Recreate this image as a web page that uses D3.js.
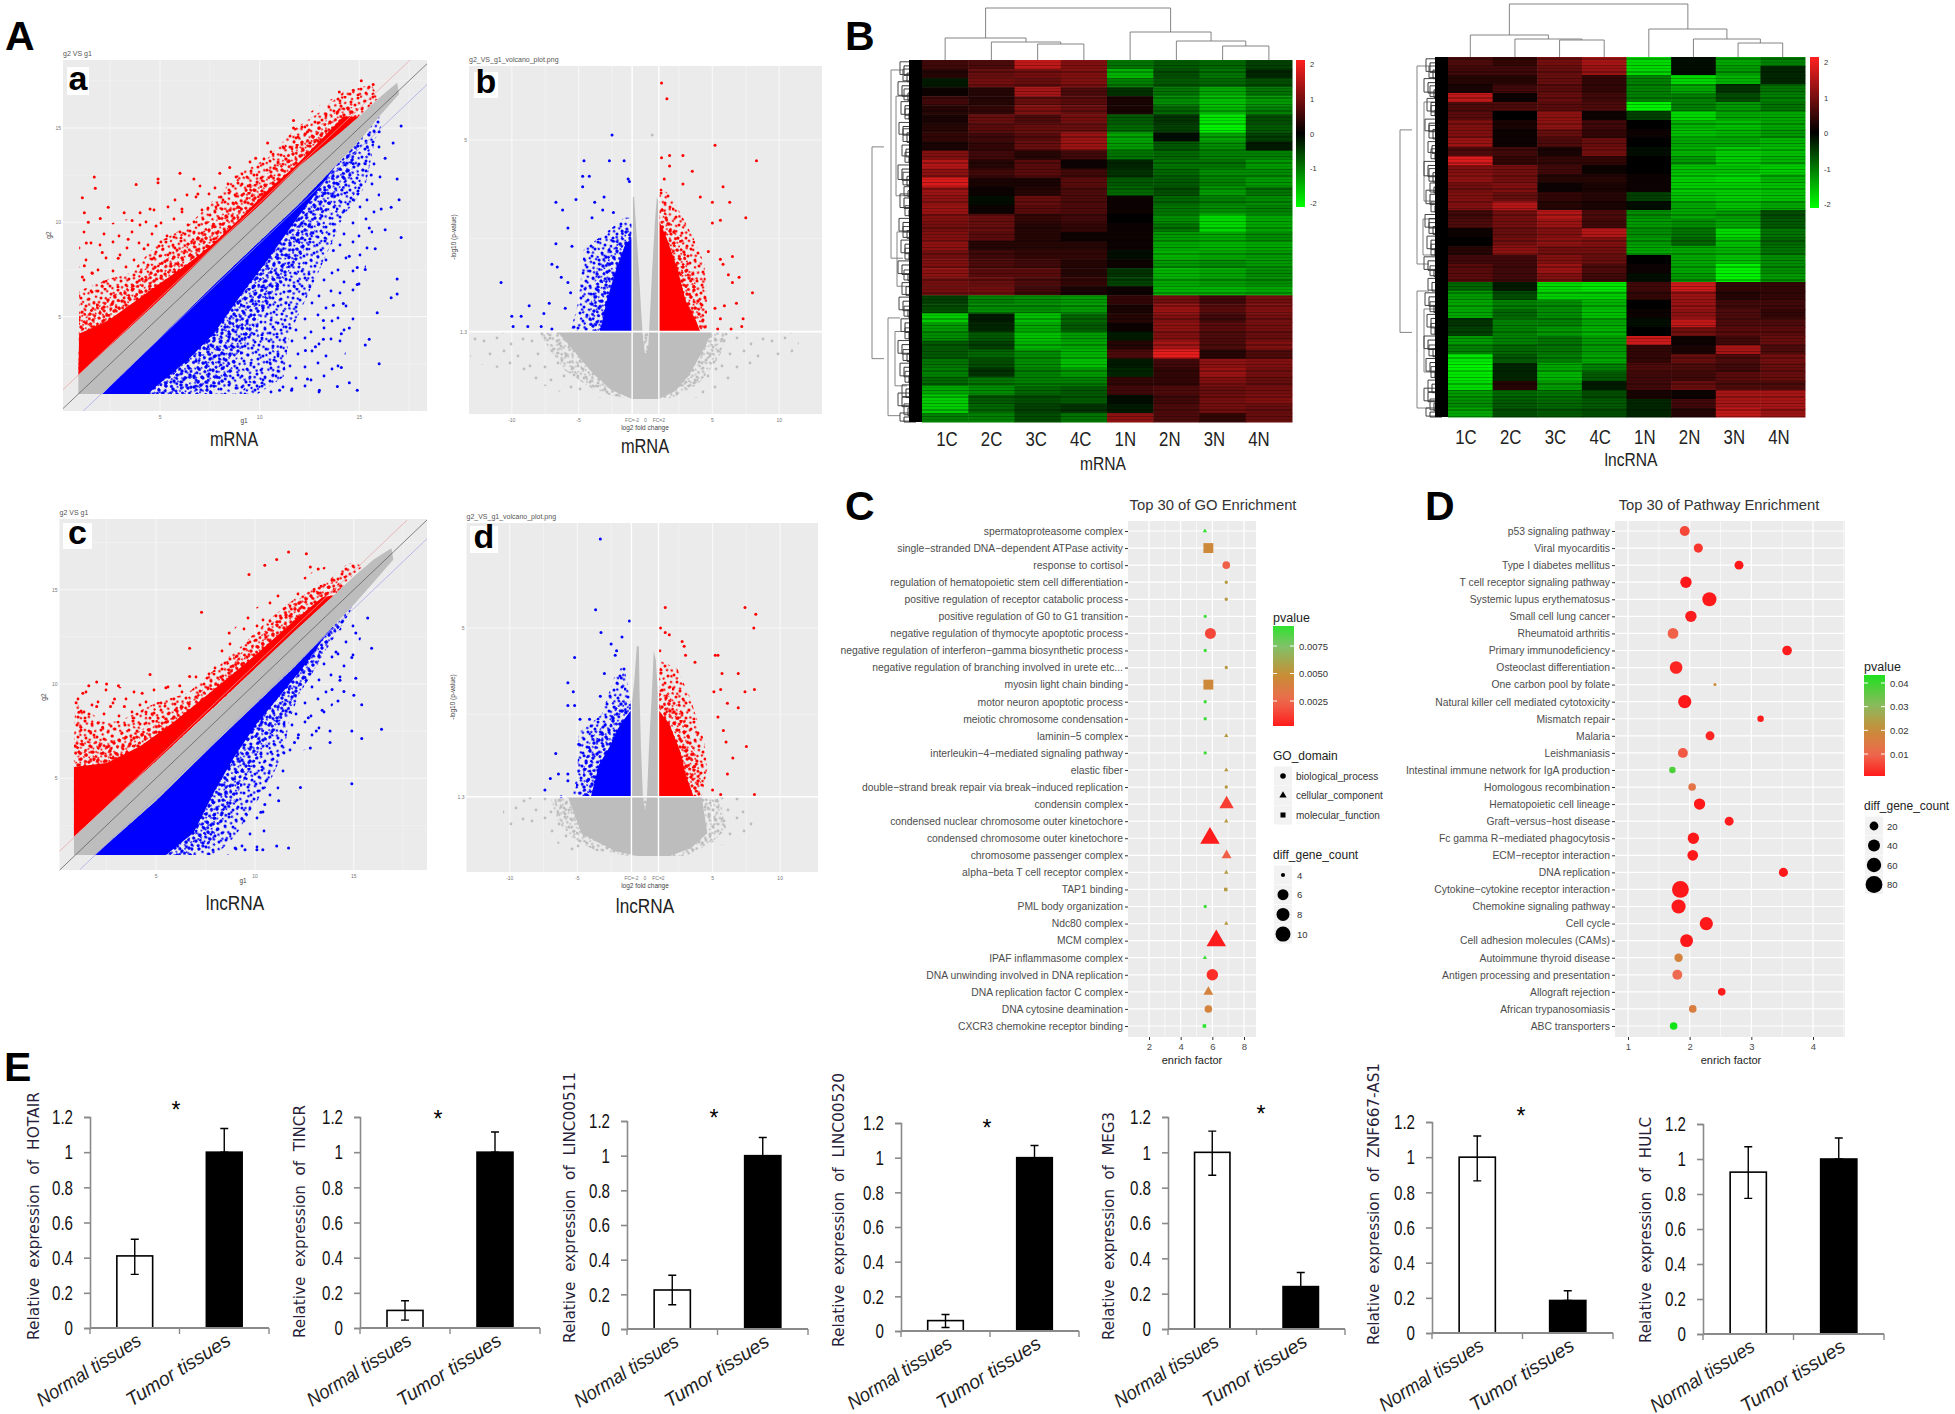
<!DOCTYPE html>
<html>
<head>
<meta charset="utf-8">
<title>Differential expression figure</title>
<script src="https://cdn.jsdelivr.net/npm/d3@7/dist/d3.min.js"></script>
<style>
body { margin: 0; background: #fff; }
svg { display: block; }
text { font-family: "Liberation Sans", Arial, sans-serif; }
</style>
</head>
<body>
<div id="chart"></div>
<script>
// ---------- panel A: scatter clouds (g1, g2) ----------
const aGrey = [[0.9,1.9],[5,5.9],[8,9],[10,10.9],[12,13],[14,14.7],[15,15.6],[16,16.6],[16.9,17.4],[17,16.8],[16,15.6],[15,14.3],[14,13.2],[12,11],[10,9],[8,7],[5,3.9],[2.1,0.9],[0.9,0.9]];
const aRedSolid = [[0.9,1.9],[0.94,4.1],[2.4,4.8],[5.05,6.8],[6.4,7.8],[7.7,8.9],[9.1,10.3],[10.4,11.7],[11.8,13],[13.1,14.4],[14.2,15.6],[15,15.6],[10,10.9],[5,5.9]];
const aRedMid = [[0.9,1.9],[0.94,5.2],[2.4,6],[3.5,6.6],[5,7.8],[6.4,8.9],[7.7,10],[9,11.4],[10.4,12.6],[11.8,14],[13.1,15.2],[14.2,16.2],[15,16],[10,10.9],[5,5.9]];
const aRedSpeckle = [[0.94,3.9],[0.94,6.4],[1.3,6.5],[2.4,7],[3.5,7.3],[5,9],[6.4,9.8],[7.7,11.2],[9,12.6],[10.4,13.4],[11.8,15],[13.1,15.9],[14.2,16.9],[15.6,17.3],[16,16.6],[10,10.9],[5,5.9]];
const aRedOuter = [[0.94,6],[0.94,9.5],[2,9.8],[3.5,10.2],[5,11.2],[7,12],[9,13],[10.4,14],[12,15.4],[13,16.2],[14.5,17],[14.2,16.2],[10.4,12.6],[5,7.8]];
const aRedPoints = [[1.7,12.4],[1.1,11.3],[1.75,11.8],[3.8,12],[4.9,12.3],[4.9,12.1],[6,12.6],[6.7,12.3],[8,12.6],[8.5,12.9],[3.2,10.5],[2,10.2],[1.2,10.5],[1.4,10],[3.6,10.1],[4,10.5],[2.4,10.8],[4.5,10.7],[9.8,13.4],[10.4,14.2],[11.7,15.4],[11.7,15],[12.4,14.8],[14,16.9],[15.1,17.5],[15.7,17.3],[14.7,17],[6.9,11.5],[6.1,10.7],[4.8,9.8],[1.3,8.9],[1.2,7.7],[2.1,8.4],[3.4,9.1],[1.1,7.1],[1.6,7.3],[2.9,8.1],[4.2,8.6]];
const aBlueSolid = [[2.1,0.9],[4.4,0.9],[4.8,1.3],[6.4,2.7],[7.7,4.1],[9.1,6.2],[10.4,8],[11.8,10.1],[12.8,11.5],[13.9,13.1],[14,13.2],[12,11],[10,9],[8,7],[5,3.9]];
const aBlueMid = [[2.1,0.9],[7.5,0.9],[8.5,1.8],[9,3],[10,5],[11.2,7],[12.4,8.8],[13.3,10.6],[14.5,12.2],[15,14.3],[14,13.2],[10,9],[5,3.9]];
const aBlueSpeckle = [[2.1,0.9],[9.9,0.9],[11.2,1.8],[11.5,4.1],[13.1,7.7],[14.2,10.3],[15.3,11.9],[15.8,14.4],[16.1,15.1],[16,15.6],[14,13.2],[10,9],[5,3.9]];
const aBlueOuter = [[9,0.9],[13,0.9],[14,2],[14.6,4],[15.2,7],[15.8,10],[16.3,13],[16,14.6],[14.2,10.3],[11.5,4.1]];
const aBluePoints = [[17.1,15.1],[16,14.8],[15.4,14],[16.7,14.2],[16.3,13.4],[16.9,12.3],[15.6,12.5],[14.7,13.1],[15.3,13.1],[17,11.2],[16.6,10.8],[16.1,10.7],[14.7,11.2],[15.5,9.7],[16.3,9.6],[17.1,9.2],[15.8,8.6],[14.5,8.2],[13.7,8.5],[14.9,7.6],[15.3,7.5],[16.9,7],[14.9,6.7],[16.9,6.2],[16.6,6],[13.7,5.6],[14.2,5.7],[15.9,5.2],[13.2,4.8],[14.5,4.4],[14.1,4.1],[15.5,3.8],[15.3,3.5],[12.8,3.4],[12.3,3.2],[13.2,3.8],[16,2.5],[14.1,2.3],[12.4,1.7],[14.5,1.5],[13.9,1.3],[14.9,1.1],[13,1.1],[11.6,1.1],[11,1.1]];

const cGrey = [[0.85,1.9],[5,5.9],[8,8.8],[10,10.8],[12,12.8],[14,14.7],[15,15.7],[16,16.6],[16.9,17.2],[17,16.6],[16,15.4],[15,14.2],[14,13.1],[12,10.9],[10,8.9],[8,6.9],[5,3.8],[1.9,0.93],[0.85,0.93]];
const cRedSolid = [[0.85,1.9],[0.85,5.6],[2.5,5.8],[4.2,6.7],[5.8,7.9],[7.1,9],[8.5,10.2],[10.1,11.6],[11.7,13.1],[13.4,14.6],[14,14.7],[10,10.8],[5,5.9]];
const cRedMid = [[0.85,1.9],[0.85,7],[2.5,6.9],[4,7.4],[5.5,8.4],[7,9.4],[8.4,10.6],[9.8,12],[11.2,13.6],[12.8,15],[14,15.6],[14.5,15.2],[10,10.8],[5,5.9]];
const cRedSpeckle = [[0.85,5],[0.9,9],[2.5,7.9],[3.3,8.1],[5,9],[6.6,9.5],[8,10.8],[9.3,12],[10.7,13.4],[12,14.5],[13.4,15.2],[14.7,16.4],[15.5,16.3],[10,10.8],[5,5.9]];
const cRedOuter = [[0.9,8],[0.9,9.6],[2,9.9],[4,9.8],[6,10],[7.5,11],[8.5,12.5],[10,14],[11.5,15],[13,16],[14.5,16.6],[12.8,15],[9.8,12],[5.5,8.4]];
const cRedPoints = [[11.7,17],[11.1,16.6],[10.5,16.3],[9.7,15.8],[12.6,16.9],[12.8,16.2],[13.2,16.1],[7.3,13.8],[8.7,12.7],[6.7,11.9],[4.7,10.5],[2,10.1],[2.5,10],[3.1,9.9],[1.6,9.9],[0.96,9],[1.3,9.5],[6.7,10.4],[4.3,9.5],[5.5,9.8],[6.2,9.9],[2.9,9.2],[2.7,8.8],[1.1,8.5],[2.3,7.7],[1.2,7.7],[2,8.8],[3.4,8.8],[1.7,7.4]];
const cBlueSolid = [[1.9,0.93],[5.5,0.93],[6.9,2.1],[8,4.4],[9,6.2],[10.1,7.9],[11.2,9.3],[12.6,11.1],[13.4,12.3],[14,13.1],[12,10.9],[10,8.9],[8,6.9],[5,3.8]];
const cBlueMid = [[1.9,0.93],[6.8,0.93],[7.8,1.6],[8.8,3.5],[9.6,5.2],[10.6,6.9],[11.6,8.4],[12.8,10.4],[13.8,12.2],[14.7,13.8],[14,13.1],[10,8.9],[5,3.8]];
const cBlueSpeckle = [[1.9,0.93],[8,0.93],[9,1.9],[9.9,3.5],[10.7,4.7],[11.5,6.5],[11.7,7.9],[12.3,9.7],[13.1,10.9],[13.9,12.3],[14.7,13.6],[15,14.2],[10,8.9],[5,3.8]];
const cBlueOuter = [[8,0.93],[10,0.93],[10.5,2],[11,4],[12,6],[13,7],[14,9],[15,11],[15.5,13],[14.7,13.6],[12.3,9.7],[10.7,4.7]];
const cBluePoints = [[15.7,13.5],[15.1,12.7],[15.9,11.9],[14.1,11.7],[14.9,11.4],[15.1,10.3],[14.3,10.2],[13.9,9.7],[14.5,9.6],[15,9.4],[14.2,9.1],[15.4,8.9],[13.4,8.6],[12.7,8.2],[16.4,7.6],[14.9,7.5],[15.4,7.1],[13.8,7.5],[13.1,7.5],[12.2,7.3],[12,6.9],[12.8,6.6],[13.8,6.9],[14.9,4.7],[12.3,4.5],[10.5,3.6],[11.2,3.8],[10.3,3.2],[11.7,1.3],[11.1,1.4],[10.4,1.2],[10.1,1.2],[9.5,1.2],[9,1.3]];

const bGreyDome = [[-6.6,1.3],[-5.2,0.89],[-4.2,0.57],[-2.6,0.18],[-1,0],[1,0],[2.2,0.15],[3.2,0.44],[4.2,0.89],[5,1.3],[1,1.3],[1,3.8],[0.85,3.9],[0.7,3.4],[0.5,2.5],[0.35,1.7],[0.2,1],[0.05,0.89],[-0.05,0.89],[-0.2,1.2],[-0.35,1.8],[-0.5,2.5],[-0.7,3.3],[-0.85,3.9],[-1,3.9],[-1,1.3]];
const bGreyMid = [[-8,1.3],[-7,0.9],[-6,0.55],[-4,0.2],[-2,0.02],[2,0.02],[4,0.3],[5.5,0.8],[6.2,1.3]];
const bGreySpeckle = [[-13,1.28],[-13.1,0.7],[-10,0.55],[-8,0.3],[-6,0.1],[-4,0.02],[4,0.02],[6,0.25],[8,0.5],[11,0.9],[12,1.28]];
const bBlueSolid = [[-1,1.3],[-3.4,1.3],[-2.9,1.9],[-2.2,2.5],[-1.5,3],[-1,3.1]];
const bBlueMid = [[-4.4,1.3],[-4,2],[-3.6,2.6],[-2.5,3],[-1.5,3.3],[-1,3.3],[-1,1.3]];
const bBlueSpeckle = [[-5.6,1.3],[-5,1.9],[-4.6,2.9],[-3,3.2],[-1.6,3.5],[-1,3.5],[-1,1.3]];
const bBluePoints = [[-2.5,5.1],[-4.6,4.6],[-2.7,4.6],[-1.6,4.6],[-4.7,4.3],[-4.2,4.3],[-1.3,4.25],[-1.2,4.2],[-4.7,4.1],[-3.1,3.9],[-5.2,3.85],[-6.7,3.8],[-3.8,3.8],[-3.2,3.65],[-6.2,3.65],[-2.4,3.6],[-4,3.5],[-5.8,3.3],[-6.7,3],[-5.5,2.95],[-7,2.6],[-6.6,2.55],[-6.3,2.35],[-10.8,2.25],[-5.8,2.25],[-5.6,2.05],[-8.7,1.8],[-7.2,1.85],[-10,1.6],[-9.3,1.6],[-7.6,1.65],[-9.9,1.4],[-8.8,1.4],[-7.8,1.4],[-7,1.35],[-6,1.75]];
const bRedSolid = [[1,1.3],[1,3.45],[1.6,3.1],[2.4,2.5],[3,1.9],[3.8,1.5],[4.1,1.3]];
const bRedMid = [[1,1.3],[1,3.8],[2,3.4],[3,2.8],[3.8,2.2],[4.3,1.7],[4.4,1.3]];
const bRedSpeckle = [[1,3.4],[1,4.1],[1.8,3.95],[2.8,3.5],[3.6,3.1],[4.4,2.6],[4.6,2],[4.6,1.3],[3.8,1.3]];
const bRedPoints = [[1.2,6.1],[1.6,5.8],[5.2,4.9],[8.3,4.6],[1.2,4.66],[1.8,4.7],[2.8,4.7],[1.8,4.5],[3.5,4.4],[1.4,4.25],[2.8,4.15],[5.8,4.1],[4.1,3.9],[5,3.8],[6.3,3.8],[7.5,3.5],[5.6,3.45],[5,3.4],[4.7,2.85],[5.6,2.7],[6.5,2.75],[5.8,2.6],[6.2,2.4],[7,2.35],[6.5,2.25],[8,2.05],[6.8,1.85],[5.9,1.8],[5.2,1.75],[5.6,1.55],[7.3,1.55],[7.2,1.4],[6.4,1.35],[5.4,1.35]];
const bGreyPoints = [[0.5,5.1]];

const dGreyDome = [[-5.7,1.3],[-4.7,0.5],[-3.5,0.3],[-2.1,0.1],[-0.5,0],[1.8,0],[3.4,0.17],[4.6,0.5],[4.2,1.3],[1,1.3],[1,3.4],[0.8,4.3],[0.65,4.5],[0.5,3.5],[0.3,2.4],[0.15,1.3],[0,1],[-0.15,1.3],[-0.3,2.4],[-0.4,3.6],[-0.45,4.6],[-0.6,4.6],[-0.8,3.8],[-1,3.3],[-1,1.3]];
const dGreyMid = [[-7,1.3],[-6.5,0.8],[-5.5,0.4],[-3.5,0.1],[-1,0],[3,0],[5,0.3],[6,0.6],[5.5,1.3]];
const dGreySpeckle = [[-10.5,1.3],[-10.5,0.6],[-7,0.5],[-6,0.1],[-3,0.05],[3,0.05],[6.5,0.3],[8.3,0.55],[7.5,1.3]];
const dBlueSolid = [[-1,1.3],[-4,1.3],[-3.4,2],[-2.6,2.4],[-1.8,2.9],[-1,3.2]];
const dBlueMid = [[-4.8,1.3],[-4.5,2],[-4,2.6],[-3,2.9],[-2,3.4],[-1,3.4],[-1,1.3]];
const dBlueSpeckle = [[-5.4,1.3],[-5,1.8],[-4.9,2.7],[-3.2,3.1],[-2.3,3.9],[-1.6,4.2],[-1,3.4],[-1,1.3]];
const dBluePoints = [[-3.3,6.95],[-3.65,5.4],[-1.15,5.15],[-3.25,4.9],[-1.7,4.8],[-2.5,4.65],[-2.1,4.5],[-2.2,4.4],[-5.2,4.35],[-1.55,4.1],[-3,4],[-1.75,3.9],[-5.7,3.8],[-5.3,3.6],[-3.3,3.5],[-5.7,3.3],[-5.2,3.3],[-4.8,3],[-4.1,3],[-6.6,2.25],[-7,1.7],[-6.4,1.8],[-5.7,1.8],[-5.7,1.65],[-7.4,1.45],[-6.2,1.3],[-4.9,2.45],[-4.5,2.2]];
const dRedSolid = [[1,1.3],[1,3.2],[1.8,2.9],[2.6,2.3],[3,1.8],[3.6,1.3]];
const dRedMid = [[1,1.3],[1,3.7],[2.2,3.4],[3,2.9],[3.8,2.2],[4.2,1.7],[4,1.3]];
const dRedSpeckle = [[1,3.2],[1,4.3],[2.4,4.1],[3.3,3.5],[4.4,2.5],[4.6,1.9],[4.2,1.3],[3.6,1.3]];
const dRedPoints = [[1.5,5.45],[7.4,5.45],[8.2,5.3],[8.05,5],[1.15,5],[1.5,4.9],[1.8,4.85],[2.75,4.7],[2.9,4.6],[1.1,4.5],[3,4.4],[5.2,4.4],[5.4,4.4],[3.7,4.25],[6.9,4],[5.7,4],[8.1,3.65],[7.4,3.6],[5.6,3.65],[5.1,3.6],[6.1,3.35],[6.9,3.25],[5.4,3.05],[5.8,2.75],[6,2.5],[7.5,2.4],[6.5,2.15],[6.1,1.8],[5,1.45],[5.6,1.35],[8.1,1.35]];

// stipple tiles for the thinner parts of the clouds (just a texture)
const speckleDots = [[2,3],[9,1],[15,6],[22,2],[29,5],[37,1],[44,4],[5,10],[12,12],[19,9],[26,13],[33,10],[41,11],[1,17],[8,19],[16,16],[23,20],[30,17],[38,18],[46,15],[4,25],[11,27],[18,23],[27,26],[34,24],[42,26],[7,33],[14,31],[21,34],[31,32],[38,35],[45,32],[2,40],[10,41],[17,38],[25,41],[33,39],[41,42],[6,46],[14,46],[22,47],[30,45],[37,46],[46,39]];
const speckleSparse = [[4,5],[17,2],[31,8],[43,3],[10,18],[24,15],[38,20],[2,30],[17,31],[30,27],[44,33],[8,42],[23,44],[36,40]];

// ---------- panel B: heatmap rows (1C..4C, 1N..4N), z scores ----------
const heatColumns = ["1C","2C","3C","4C","1N","2N","3N","4N"];
const heatTicks = [2,1,0,-1,-2];
const mrnaRows = [
[.5,.6,1.5,1.0,-.9,-.7,-.8,-.5],[.3,.8,.9,1.0,-1.4,-.6,-.9,-.3],[-.2,.9,.8,1.0,-1.0,-.7,-.8,-.6],[.1,.3,1.3,.6,-.4,-.9,-1.3,-.9],
[.5,.3,.8,.7,.2,-1.1,-1.5,-1.2],[.3,.4,1.0,.8,.2,-.8,-1.4,-1.0],[.2,.8,.6,.9,-.7,-.4,-1.8,-.6],[.3,.7,.8,.8,-.8,-.5,-1.9,-.7],
[.4,.5,.7,1.2,-1.3,-.1,-1.3,-.5],[.2,.4,.8,1.2,-1.2,-.7,-1.1,-.2],[1.0,.5,.3,.5,-.9,-.8,-1.0,-1.0],[1.4,.3,.7,.1,-.3,-.9,-.9,-1.2],
[1.1,.5,.7,.5,-.4,-.8,-1.1,-1.1],[1.7,.2,.2,.7,-.7,-.7,-1.0,-1.2],[1.2,.1,.3,.6,-.8,-.6,-1.2,-.9],[1.1,-.1,.8,.6,.1,-.8,-1.0,-1.1],
[1.2,.1,.7,.6,.1,-.9,-1.1,-1.0],[1.0,.8,.4,.5,0,-1.1,-1.7,-1.3],[.9,.8,.3,.4,.1,-.9,-1.7,-1.3],[1.0,.7,.3,.1,.1,-1.2,-1.3,-1.1],
[1.1,.3,.3,.3,.1,-1.3,-1.4,-1.3],[.9,.5,.4,.4,-.1,-1.4,-1.3,-1.2],[1.0,.6,.5,.3,.1,-1.2,-1.1,-1.2],[1.1,.7,.7,.3,-.4,-1.4,-1.3,-1.1],
[.9,.8,.6,.4,-.5,-1.3,-1.2,-1.1],[.9,.9,.5,.2,.1,-1.4,-1.4,-1.3],[-.5,-1.0,-1.1,-1.2,.4,.9,.5,.9],[-.6,-1.1,-1.1,-1.2,.2,1.2,.7,1.0],
[-1.6,-.2,-1.5,-.8,.3,1.0,.5,.9],[-1.2,-.3,-1.3,-.7,.1,1.1,.7,.9],[-1.1,-.7,-1.5,-1.2,-.2,1.0,.6,.8],[-.7,-.5,-1.4,-1.3,.3,1.3,.6,1.0],
[-.7,-.8,-1.1,-1.4,.6,1.8,.3,.6],[-.9,-.6,-1.1,-1.5,-.2,.5,1.1,1.0],[-1.0,-.4,-1.0,-1.2,-.3,.4,1.2,.9],[-.8,-.9,-1.0,-1.0,.4,.4,1.0,.8],
[-1.3,-1.1,-.8,-.7,.5,.6,.8,.9],[-1.6,-.7,-.6,-.7,-.1,.5,.9,1.0],[-1.6,-.8,-.5,-.4,-.2,.6,.9,.8],[-1.0,-1.0,-.6,-.9,1.1,.6,.4,.8]];
const lncRows = [
[.6,.4,.9,1.3,-1.7,-.1,-1.3,-1.0],[.5,.5,.8,1.2,-1.7,-.1,-1.2,-.3],[.3,.3,.8,.4,-1.0,-1.7,-1.4,-.3],[.2,.5,.7,.4,-1.0,-1.3,-.4,-.9],
[1.5,.1,.8,.5,-1.0,-1.0,-.6,-1.0],[.6,.6,.7,.6,-1.9,-1.0,-1.2,-.9],[.7,0,1.1,.1,-.5,-1.7,-1.3,-1.3],[1.0,.2,1.1,.5,0,-1.4,-1.5,-1.3],
[1.0,.1,.8,.4,.1,-1.5,-1.4,-1.2],[1.2,.1,.6,.8,0,-1.3,-1.3,-1.4],[.6,.5,.2,.9,-.1,-1.4,-1.6,-1.5],[1.7,.4,.4,.4,0,-1.2,-1.6,-1.4],
[1.0,.9,.5,.1,0,-1.5,-1.5,-1.6],[1.1,.9,.3,.3,.1,-1.6,-1.7,-1.4],[.9,1.0,.1,.2,.1,-1.6,-1.6,-1.5],[1.0,.8,.4,.3,-.5,-1.5,-1.6,-1.5],
[1.0,1.4,.3,.2,-.1,-1.3,-1.5,-1.3],[.5,.9,1.4,.6,-1.1,-1.3,-1.2,-.6],[.6,.9,1.2,.5,-1.2,-1.1,-1.3,-.7],[.1,.8,1.0,1.4,-1.1,-.9,-1.7,-.9],
[0,.9,1.1,1.0,-1.2,-.8,-1.5,-.8],[.3,1.1,.9,.9,-1.3,-1.3,-1.4,-.9],[.5,.5,1.0,.8,0,-1.3,-1.5,-1.1],[.7,.5,1.2,.6,.1,-1.3,-1.9,-1.1],
[.7,.5,1.0,.5,-.1,-1.2,-1.9,-1.2],[-.8,-.2,-1.7,-1.8,.5,1.6,.4,.4],[-1.2,-.6,-1.6,-1.6,.4,1.2,.3,.4],[-1.3,-1.0,-1.1,-1.4,0,1.2,.5,.5],
[-1.3,-.8,-1.1,-1.5,.1,1.1,.6,.4],[-.4,-1.0,-1.0,-1.3,-.1,1.5,.6,.6],[-.5,-1.0,-1.2,-1.4,0,.9,.7,.7],[-1.2,-1.0,-.9,-1.2,1.6,.1,.5,.8],
[-1.0,-.8,-.9,-1.2,.4,.2,1.3,.6],[-1.8,-.7,-1.0,-1.3,.4,.8,.6,.9],[-1.9,-.3,-1.3,-1.0,.6,.6,.5,.8],[-1.8,-.3,-1.4,-.7,.5,.5,.7,.8],
[-1.7,.3,-1.2,-.2,.5,.8,.6,.6],[-1.2,-.8,-.9,-.6,.2,.1,1.3,1.3],[-1.1,-.7,-.8,-.7,-.3,.5,1.3,1.3],[-1.3,-.6,-.7,-.6,-.3,.3,1.5,1.2]];

// column dendrograms: [left node, right node, height]; nodes 0-7 are leaves, 8+ earlier merges
const mrnaMerges = [[2,3,16],[1,8,18],[0,9,22],[6,7,14],[5,11,19],[4,12,28],[10,13,52]];
const lncMerges = [[2,3,17],[1,8,18],[0,9,22],[6,7,14],[5,11,18],[4,12,28],[10,13,53]];
// row dendrogram brackets: [distance left of the heatmap, first row, last row]
const mrnaBigBrackets = [[50,9.6,33],[31,1.1,21.9],[34,28.5,39.3],[26,4,15],[25,19,25],[27,30,36]];
const lncBigBrackets = [[48,8.1,30.6],[31,1,23],[31,26,39],[24,5,16],[24,28,35],[25,18,22]];
const rowCurls = [[22,0.2,1.6],[19,1,2.3],[24,2.4,3.9],[18,3.2,4.4],[21,4.6,6],[17,5.4,6.5],[23,6.9,8.2],[19,7.6,9],[20,9.4,10.6],[17,10.2,11.3],[24,11.6,13.2],[19,12.4,13.8],[18,14,15],[22,14.8,16.3],[17,16.1,17.2],[23,17.5,18.9],[19,18.4,19.6],[21,19.9,21.3],[17,20.8,22],[24,22.2,23.6],[18,23.2,24.3],[20,24.6,25.9],[23,26.2,27.6],[18,27.2,28.3],[21,28.6,30],[17,29.6,30.8],[24,31,32.4],[19,32,33.2],[22,33.5,34.9],[17,34.4,35.6],[20,35.9,37.2],[24,36.8,38.2],[18,38,39.2],[22,39,39.9]];

// ---------- panel C: GO enrichment ----------
const goTerms = ["spermatoproteasome complex","single\u2212stranded DNA\u2212dependent ATPase activity","response to cortisol","regulation of hematopoietic stem cell differentiation","positive regulation of receptor catabolic process","positive regulation of G0 to G1 transition","negative regulation of thymocyte apoptotic process","negative regulation of interferon\u2212gamma biosynthetic process","negative regulation of branching involved in urete etc...","myosin light chain binding","motor neuron apoptotic process","meiotic chromosome condensation","laminin\u22125 complex","interleukin\u22124\u2212mediated signaling pathway","elastic fiber","double\u2212strand break repair via break\u2212induced replication","condensin complex","condensed nuclear chromosome outer kinetochore","condensed chromosome outer kinetochore","chromosome passenger complex","alpha\u2212beta T cell receptor complex","TAP1 binding","PML body organization","Ndc80 complex","MCM complex","IPAF inflammasome complex","DNA unwinding involved in DNA replication","DNA replication factor C complex","DNA cytosine deamination","CXCR3 chemokine receptor binding"];
const goEnrich = [5.53,5.75,6.88,6.88,6.88,5.55,5.88,5.55,6.88,5.75,5.55,5.55,6.88,5.55,6.88,6.88,6.9,6.88,5.85,6.9,6.88,6.85,5.55,6.88,6.25,5.53,6,5.75,5.75,5.5];
const goP = [.0092,.0045,.0022,.0055,.0055,.009,.0015,.009,.0055,.0045,.009,.009,.0055,.009,.0055,.0055,.0012,.0055,.0003,.0022,.0055,.0055,.009,.0055,.0003,.009,.0008,.0042,.0042,.0095];
const goCount = [3,6,5,3,3,3,6,3,3,6,3,3,3,3,3,3,6,3,10,5,3,3.6,3,3,10,3,6.5,5,5,3.6];
const goDomain = ["t","s","c","c","c","c","c","c","c","s","c","c","t","c","t","c","t","t","t","t","t","s","c","t","t","t","c","t","c","s"];
const goDomainNames = ["biological_process","cellular_component","molecular_function"];
const goPTicks = [.0075,.005,.0025];
const goCountTicks = [4,6,8,10];
const goXTicks = [2,4,6,8];

// ---------- panel D: pathway enrichment ----------
const pathTerms = ["p53 signaling pathway","Viral myocarditis","Type I diabetes mellitus","T cell receptor signaling pathway","Systemic lupus erythematosus","Small cell lung cancer","Rheumatoid arthritis","Primary immunodeficiency","Osteoclast differentiation","One carbon pool by folate","Natural killer cell mediated cytotoxicity","Mismatch repair","Malaria","Leishmaniasis","Intestinal immune network for IgA production","Homologous recombination","Hematopoietic cell lineage","Graft\u2212versus\u2212host disease","Fc gamma R\u2212mediated phagocytosis","ECM\u2212receptor interaction","DNA replication","Cytokine\u2212cytokine receptor interaction","Chemokine signaling pathway","Cell cycle","Cell adhesion molecules (CAMs)","Autoimmune thyroid disease","Antigen processing and presentation","Allograft rejection","African trypanosomiasis","ABC transporters"];
const pathEnrich = [1.92,2.14,2.8,1.94,2.32,2.02,1.73,3.58,1.78,2.41,1.92,3.15,2.33,1.89,1.72,2.04,2.16,2.64,2.06,2.05,3.52,1.85,1.82,2.27,1.95,1.82,1.8,2.52,2.05,1.74];
const pathP = [.006,.004,.0005,.0005,.0005,.001,.009,.001,.002,.019,.0005,.001,.002,.008,.038,.013,.0005,.001,.0005,.0005,.0005,.0005,.0005,.0005,.0005,.017,.01,.001,.016,.045];
const pathCount = [27,22,21,36,58,36,32,25,45,5,50,14,21,27,14,17,36,21,36,32,22,80,58,50,47,19,27,17,17,17];
const pathPTicks = [.04,.03,.02,.01];
const pathCountTicks = [20,40,60,80];
const pathXTicks = [1,2,3,4];

// ---------- panel E: bars ----------
const barGenes = ["HOTAIR","TINCR","LINC00511","LINC00520","MEG3","ZNF667-AS1","HULC"];
const barCategories = ["Normal tissues","Tumor tissues"];
const barNormal = [.41,.10,.225,.06,1,1,.925];
const barTumor = [1,1,1,1,.24,.185,1];
const normalErrUp = [.095,.055,.085,.035,.12,.12,.145];
const normalErrDown = [.105,.055,.085,.04,.13,.135,.15];
const tumorErrUp = [.135,.115,.105,.07,.08,.055,.12];
const starValue = [1.25,1.2,1.23,1.18,1.23,1.245,null];
const barTicks = [0,.2,.4,.6,.8,1,1.2];

const svg = d3.select("#chart").append("svg").attr("width", 1955).attr("height", 1414);
const defs = svg.append("defs");
defs.append("filter").attr("id", "soft").attr("x", "-2%").attr("y", "-2%").attr("width", "104%").attr("height", "104%")
	.append("feGaussianBlur").attr("stdDeviation", 0.5);

function addSpeckle(id, color, dots, r, transform)
{
	const p = defs.append("pattern").attr("id", id).attr("patternUnits", "userSpaceOnUse").attr("width", 48).attr("height", 48);
	if (transform) p.attr("patternTransform", transform);
	p.selectAll("circle").data(dots).enter().append("circle")
		.attr("cx", d => d[0]).attr("cy", d => d[1]).attr("r", r).attr("fill", color);
}
const layerTransforms = [null, "rotate(37) scale(0.8)", "rotate(-65) scale(0.65)"];
[["Red","#ff0000"],["Blue","#0000ff"],["Grey","#bdbdbd"]].forEach(c =>
{
	layerTransforms.forEach((t, i) => addSpeckle(`sp${c[0]}${i}`, c[1], speckleDots, 1.5, t));
	addSpeckle(`sp${c[0]}Sparse`, c[1], speckleSparse, 1.4, null);
});

// horizontal streaks over the heatmap cells (texture only)
const stripe = defs.append("pattern").attr("id", "heatStripe").attr("patternUnits", "userSpaceOnUse").attr("width", 10).attr("height", 13);
[[0,1,.28],[3,1,.16],[6,2,.24],[10,1,.12]].forEach(s =>
	stripe.append("rect").attr("x", 0).attr("width", 10).attr("y", s[0]).attr("height", s[1]).attr("fill", "#000").attr("opacity", s[2]));

function squeeze(node, f)
{
	node.setAttribute("textLength", node.getComputedTextLength() * f);
	node.setAttribute("lengthAdjust", "spacingAndGlyphs");
}

function txt(x, y, s, size, opt = {})
{
	const t = svg.append("text").attr("x", x).attr("y", y).attr("font-size", size)
		.attr("fill", opt.fill || "#000").attr("text-anchor", opt.anchor || "start").text(s);
	if (opt.weight) t.attr("font-weight", opt.weight);
	if (opt.rotate !== undefined) t.attr("transform", `rotate(${opt.rotate},${x},${y})`);
	if (opt.length) t.attr("textLength", opt.length).attr("lengthAdjust", "spacingAndGlyphs");
	if (opt.squeeze) squeeze(t.node(), opt.squeeze);
	if (opt.italic) t.attr("font-style", "italic");
	return t;
}

// panel letters
[["A",5,50],["B",845,50],["C",845,520],["D",1425,520],["E",4,1081]].forEach(d => txt(d[1], d[2], d[0], 41, { weight: "bold" }));

function drawScatter(c)
{
	const x = d3.scaleLinear().domain(c.xDomain).range(c.xRange);
	const y = d3.scaleLinear().domain(c.yDomain).range(c.yRange);
	const line = d3.line().x(d => x(d[0])).y(d => y(d[1]));
	const g = svg.append("g");
	g.append("rect").attr("x", c.xRange[0]).attr("y", c.yRange[1]).attr("width", c.xRange[1] - c.xRange[0])
		.attr("height", c.yRange[0] - c.yRange[1]).attr("fill", "#ebebeb");
	// grid
	c.xMinor.forEach(v => g.append("line").attr("x1", x(v)).attr("x2", x(v)).attr("y1", c.yRange[0]).attr("y2", c.yRange[1]).attr("stroke", "#f3f3f3").attr("stroke-width", 0.7));
	c.yMinor.forEach(v => g.append("line").attr("y1", y(v)).attr("y2", y(v)).attr("x1", c.xRange[0]).attr("x2", c.xRange[1]).attr("stroke", "#f3f3f3").attr("stroke-width", 0.7));
	c.xMajor.forEach(v => g.append("line").attr("x1", x(v)).attr("x2", x(v)).attr("y1", c.yRange[0]).attr("y2", c.yRange[1]).attr("stroke", "#f8f8f8").attr("stroke-width", 1.1));
	c.yMajor.forEach(v => g.append("line").attr("y1", y(v)).attr("y2", y(v)).attr("x1", c.xRange[0]).attr("x2", c.xRange[1]).attr("stroke", "#f8f8f8").attr("stroke-width", 1.1));

	const marks = g.append("g").attr("filter", "url(#soft)");
	const poly = (pts, fill) => marks.append("path").attr("d", line(pts) + "Z").attr("fill", fill);
	const dots = (pts, fill) => marks.selectAll(null).data(pts).enter().append("circle")
		.attr("cx", d => x(d[0])).attr("cy", d => y(d[1])).attr("r", 1.5).attr("fill", fill);

	if (c.greySpeckle) poly(c.greySpeckle, "url(#spGreySparse)");
	if (c.greyMid) [0,1,2].forEach(i => poly(c.greyMid, `url(#spGrey${i})`));
	if (c.redOuter) poly(c.redOuter, "url(#spRedSparse)");
	if (c.blueOuter) poly(c.blueOuter, "url(#spBlueSparse)");
	[0,1].forEach(i => { poly(c.redSpeckle, `url(#spRed${i})`); poly(c.blueSpeckle, `url(#spBlue${i})`); });
	[0,1,2].forEach(i => { poly(c.redMid, `url(#spRed${i})`); poly(c.blueMid, `url(#spBlue${i})`); });
	poly(c.redSolid, "#ff0000");
	poly(c.blueSolid, "#0000ff");
	poly(c.grey, "#bdbdbd");
	dots(c.redPoints, "#ff0000");
	dots(c.bluePoints, "#0000ff");
	if (c.greyPoints) dots(c.greyPoints, "#bdbdbd");

	if (c.fcLines)
	{
		const colors = ["#e8a0a0", "#555", "#a0a0e8"];
		c.fcLines.forEach((l, i) => g.append("path").attr("d", line(l)).attr("stroke", colors[i]).attr("fill", "none").attr("stroke-width", 0.7));
	}
	if (c.cutX)
	{
		c.cutX.forEach(v => g.append("line").attr("x1", x(v)).attr("x2", x(v)).attr("y1", c.yRange[0]).attr("y2", c.yRange[1]).attr("stroke", "#fff").attr("stroke-width", 1.4));
		g.append("line").attr("y1", y(c.cutY)).attr("y2", y(c.cutY)).attr("x1", c.xRange[0]).attr("x2", c.xRange[1]).attr("stroke", "#fff").attr("stroke-width", 1.6);
	}
	// tiny tick labels like the original export
	c.xLabels.forEach(d => txt(x(d[0]), c.yRange[0] + 8, d[1], 5, { anchor: "middle", fill: "#777" }));
	c.yLabels.forEach(d => txt(c.xRange[0] - 2, y(d[0]) + 2, d[1], 5, { anchor: "end", fill: "#777" }));
	txt(c.xRange[0], c.yRange[1] - 4, c.title, 7, { fill: "#555" });
	txt(c.xLabelPos[0], c.xLabelPos[1], c.xLabel, 6.5, { anchor: "middle", fill: "#444" });
	txt(c.yLabelPos[0], c.yLabelPos[1], c.yLabel, 6.5, { anchor: "middle", fill: "#444", rotate: -90 });
	txt(c.namePos[0], c.namePos[1], c.name, 21, { anchor: "middle", fill: "#222", squeeze: c.nameSqueeze });
	svg.append("rect").attr("x", c.badge[0]).attr("y", c.badge[1]).attr("width", c.badge[2]).attr("height", c.badge[3]).attr("fill", "#fff");
	txt(c.badge[0] + c.badge[2] / 2, c.badge[1] + c.badge[3] - 5, c.letter, 34, { anchor: "middle", weight: "bold" });
}

drawScatter({ xDomain: [0.13,18.4], xRange: [63,427], yDomain: [0,18.6], yRange: [411,60],
	xMajor: [5,10,15], yMajor: [5,10,15], xMinor: [2.5,7.5,12.5,17.5], yMinor: [2.5,7.5,12.5,17.5],
	grey: aGrey, redSolid: aRedSolid, redMid: aRedMid, redSpeckle: aRedSpeckle, redOuter: aRedOuter, redPoints: aRedPoints, blueSolid: aBlueSolid, blueMid: aBlueMid, blueSpeckle: aBlueSpeckle, blueOuter: aBlueOuter, bluePoints: aBluePoints,
	fcLines: [[[0.13,1.13],[17.55,18.6]], [[0.13,0.13],[18.4,18.4]], [[1.15,0],[18.4,17.3]]],
	xLabels: [[5,"5"],[10,"10"],[15,"15"]], yLabels: [[5,"5"],[10,"10"],[15,"15"]],
	title: "g2 VS g1", xLabel: "g1", xLabelPos: [244,423], yLabel: "g2", yLabelPos: [51,235], name: "mRNA", nameSqueeze: 0.78, namePos: [234,446], badge: [67,67,22,28], letter: "a" });

drawScatter({ xDomain: [-13.2,13.2], xRange: [469,822], yDomain: [-0.29,6.43], yRange: [414,66],
	xMajor: [-10,-5,5,10], yMajor: [5], xMinor: [-7.5,-2.5,2.5,7.5], yMinor: [3.1],
	grey: bGreyDome, greyMid: bGreyMid, greySpeckle: bGreySpeckle, greyPoints: bGreyPoints, redSolid: bRedSolid, redMid: bRedMid, redSpeckle: bRedSpeckle, redPoints: bRedPoints, blueSolid: bBlueSolid, blueMid: bBlueMid, blueSpeckle: bBlueSpeckle, bluePoints: bBluePoints,
	cutX: [-1,1], cutY: 1.3,
	xLabels: [[-10,"-10"],[-5,"-5"],[-1,"FC=-2"],[0,"0"],[1,"FC=2"],[5,"5"],[10,"10"]], yLabels: [[5,"5"],[1.3,"1.3"]],
	title: "g2_VS_g1_volcano_plot.png", xLabel: "log2 fold change", xLabelPos: [645,430], yLabel: "-log10 (p-value)", yLabelPos: [456,237], name: "mRNA", nameSqueeze: 0.78, namePos: [645,453], badge: [474,72,24,26], letter: "b" });

drawScatter({ xDomain: [0.12,18.7], xRange: [59.5,427], yDomain: [0.13,18.75], yRange: [870,519],
	xMajor: [5,10,15], yMajor: [5,10,15], xMinor: [2.5,7.5,12.5,17.5], yMinor: [2.5,7.5,12.5,17.5],
	grey: cGrey, redSolid: cRedSolid, redMid: cRedMid, redSpeckle: cRedSpeckle, redOuter: cRedOuter, redPoints: cRedPoints, blueSolid: cBlueSolid, blueMid: cBlueMid, blueSpeckle: cBlueSpeckle, blueOuter: cBlueOuter, bluePoints: cBluePoints,
	fcLines: [[[0.12,1.12],[17.7,18.7]], [[0.13,0.13],[18.7,18.7]], [[1.15,0.15],[18.7,17.7]]],
	xLabels: [[5,"5"],[10,"10"],[15,"15"]], yLabels: [[5,"5"],[10,"10"],[15,"15"]],
	title: "g2 VS g1", xLabel: "g1", xLabelPos: [243,883], yLabel: "g2", yLabelPos: [46,697], name: "lncRNA", nameSqueeze: 0.82, namePos: [235,910], badge: [63,523,29,26], letter: "c" });

drawScatter({ xDomain: [-13.2,12.8], xRange: [466.5,818], yDomain: [-0.35,7.3], yRange: [872,523],
	xMajor: [-10,-5,5,10], yMajor: [5], xMinor: [-7.5,-2.5,2.5,7.5], yMinor: [3.1],
	grey: dGreyDome, greyMid: dGreyMid, greySpeckle: dGreySpeckle, redSolid: dRedSolid, redMid: dRedMid, redSpeckle: dRedSpeckle, redPoints: dRedPoints, blueSolid: dBlueSolid, blueMid: dBlueMid, blueSpeckle: dBlueSpeckle, bluePoints: dBluePoints,
	cutX: [-1,1], cutY: 1.3,
	xLabels: [[-10,"-10"],[-5,"-5"],[-1,"FC=-2"],[0,"0"],[1,"FC=2"],[5,"5"],[10,"10"]], yLabels: [[5,"5"],[1.3,"1.3"]],
	title: "g2_VS_g1_volcano_plot.png", xLabel: "log2 fold change", xLabelPos: [645,888], yLabel: "-log10 (p-value)", yLabelPos: [455,697], name: "lncRNA", nameSqueeze: 0.82, namePos: [645,913], badge: [470,526,28,27], letter: "d" });

// ---------- heatmaps ----------
const heatColor = d3.scaleLinear().domain([-2,0,2]).range(["#00ff00","#000000","#ff2020"]);
const gradId = "heatGrad";
const heatGrad = defs.append("linearGradient").attr("id", gradId).attr("x1", 0).attr("x2", 0).attr("y1", 0).attr("y2", 1);
heatTicks.forEach((v, i) => heatGrad.append("stop").attr("offset", i / 4).attr("stop-color", heatColor(v)));

function drawHeat(c)
{
	const x = d3.scaleBand().domain(d3.range(8)).range(c.xRange);
	const y = d3.scaleLinear().domain([0, c.rows.length]).range(c.yRange);
	const g = svg.append("g");
	c.rows.forEach((row, r) =>
	{
		g.selectAll(null).data(row).enter().append("rect")
			.attr("x", (d, i) => x(i)).attr("y", y(r)).attr("width", x.bandwidth() + 0.5).attr("height", y(1) - y(0) + 0.5)
			.attr("fill", d => heatColor(d));
	});
	g.append("rect").attr("x", c.xRange[0]).attr("y", c.yRange[0]).attr("width", c.xRange[1] - c.xRange[0]).attr("height", c.yRange[1] - c.yRange[0]).attr("fill", "url(#heatStripe)");
	// top dendrogram
	const h = d3.scaleLinear().domain([0,60]).range([c.yRange[0], c.yRange[0] - 60]);
	const nodes = d3.range(8).map(i => ({ x: x(i) + x.bandwidth() / 2, h: 0 }));
	c.merges.forEach(m =>
	{
		const a = nodes[m[0]], b = nodes[m[1]];
		g.append("path").attr("fill", "none").attr("stroke", "#777").attr("stroke-width", 0.9)
			.attr("d", `M${a.x},${h(a.h)}V${h(m[2])}H${b.x}V${h(b.h)}`);
		nodes.push({ x: (a.x + b.x) / 2, h: m[2] });
	});
	// left dendrogram
	const bracket = (depth, r1, r2, color, w) => g.append("path").attr("fill", "none").attr("stroke", color).attr("stroke-width", w)
		.attr("d", `M${c.xRange[0] - depth + 12},${y(r1)}H${c.xRange[0] - depth}V${y(r2)}H${c.xRange[0] - depth + 12}`);
	c.big.forEach(b => bracket(b[0], b[1], b[2], "#777", 0.9));
	rowCurls.forEach(b =>
	{
		bracket(b[0], b[1], b[2], "#444", 1);
		bracket(b[0] - 4, b[1] + 0.45, b[2] + 0.1, "#333", 1);
	});
	g.append("rect").attr("x", c.xRange[0] - 13).attr("y", c.yRange[0]).attr("width", 13).attr("height", c.yRange[1] - c.yRange[0]).attr("fill", "#000");
	// colour key
	g.append("rect").attr("x", c.key[0]).attr("y", c.key[1]).attr("width", c.key[2]).attr("height", c.key[3]).attr("fill", `url(#${gradId})`);
	const keyScale = d3.scaleLinear().domain([2,-2]).range(c.keyTicks);
	heatTicks.forEach(v => txt(c.key[0] + c.key[2] + 5, keyScale(v) + 3, String(v), 7.5, { fill: "#333" }));
	// labels
	const lab = d3.scalePoint().domain(heatColumns).range(c.labels);
	heatColumns.forEach(n => txt(lab(n), c.labelY, n, 21, { anchor: "middle", fill: "#222", squeeze: 0.8 }));
	txt(c.namePos[0], c.namePos[1], c.name, 19, { anchor: "middle", fill: "#222", squeeze: 0.82 });
}
drawHeat({ rows: mrnaRows, merges: mrnaMerges, big: mrnaBigBrackets, xRange: [922,1292], yRange: [60,422], key: [1296,60,9,147], keyTicks: [64,203], labels: [947,1259], labelY: 446, name: "mRNA", namePos: [1103,470] });
drawHeat({ rows: lncRows, merges: lncMerges, big: lncBigBrackets, xRange: [1448,1805], yRange: [57,417], key: [1810,57,9,151], keyTicks: [62,204], labels: [1466,1779], labelY: 444, name: "lncRNA", namePos: [1631,466] });

// ---------- enrichment dot plots ----------
function shapePath(kind, r)
{
	if (kind === "s") return d3.symbol().type(d3.symbolSquare).size(Math.pow(1.8 * r, 2))();
	if (kind === "t") return d3.symbol().type(d3.symbolTriangle).size(Math.pow(2.6 * r, 2) * 0.433)();
	return d3.symbol().type(d3.symbolCircle).size(Math.PI * r * r)();
}

function drawEnrich(c)
{
	const x = d3.scaleLinear().domain(c.xDomain).range(c.xRange);
	const y = d3.scalePoint().domain(c.terms).range(c.rowRange);
	const g = svg.append("g");
	g.append("rect").attr("x", c.plot[0]).attr("y", c.plot[1]).attr("width", c.plot[2] - c.plot[0]).attr("height", c.plot[3] - c.plot[1]).attr("fill", "#ebebeb");
	c.terms.forEach(t => g.append("line").attr("x1", c.plot[0]).attr("x2", c.plot[2]).attr("y1", y(t)).attr("y2", y(t)).attr("stroke", "#fff").attr("stroke-width", 1.2));
	c.xTicks.forEach(v =>
	{
		g.append("line").attr("x1", x(v)).attr("x2", x(v)).attr("y1", c.plot[1]).attr("y2", c.plot[3]).attr("stroke", "#fff").attr("stroke-width", 1.2);
		const mid = v + (c.xTicks[1] - c.xTicks[0]) / 2;
		if (x(mid) < c.plot[2]) g.append("line").attr("x1", x(mid)).attr("x2", x(mid)).attr("y1", c.plot[1]).attr("y2", c.plot[3]).attr("stroke", "#fff").attr("stroke-width", 0.6);
	});
	const axisB = g.append("g").attr("transform", `translate(0,${c.plot[3]})`).call(d3.axisBottom(x).tickValues(c.xTicks).tickFormat(d3.format("d")).tickSize(3));
	axisB.select(".domain").remove();
	axisB.selectAll("text").attr("font-size", 9.5).attr("fill", "#4d4d4d").attr("font-family", "Liberation Sans");
	axisB.selectAll("line").attr("stroke", "#333");
	const axisL = g.append("g").attr("transform", `translate(${c.plot[0]},0)`).call(d3.axisLeft(y).tickSize(3).tickPadding(2));
	axisL.select(".domain").remove();
	axisL.selectAll("text").attr("font-size", 10.35).attr("fill", "#4d4d4d").attr("font-family", "Liberation Sans");
	axisL.selectAll("line").attr("stroke", "#333");
	c.terms.forEach((t, i) =>
	{
		g.append("path").attr("d", shapePath(c.domains ? c.domains[i] : "c", c.size(c.counts[i])))
			.attr("transform", `translate(${x(c.enrich[i])},${y(t)})`).attr("fill", c.color(c.p[i]));
	});
	txt(c.titleX, 510, c.title, 14.8, { anchor: "middle", fill: "#333" });
	txt(c.labelX, 1064, "enrich factor", 11, { anchor: "middle", fill: "#222" });
}

const goColor = d3.scaleLinear().domain([.0002,.0025,.0048,.0075,.0093]).range(["#ff1a1a","#ee6a50","#c98c35","#7fc268","#2fe22f"]);
const goSize = d3.scaleLinear().domain([3,4,6,8,10]).range([1.7,2.1,5.5,6.5,7.5]);
const pathColor = d3.scaleLinear().domain([.0007,.01,.02,.03,.0434]).range(["#ff1a1a","#ee6a50","#c98c35","#8fb860","#1fe01f"]);
const pathSize = d3.scaleLinear().domain([5,20,40,60,80]).range([1.5,4.4,6,7.2,8.4]);

drawEnrich({ terms: goTerms, enrich: goEnrich, p: goP, counts: goCount, domains: goDomain, color: goColor, size: goSize,
	xDomain: [2,8], xRange: [1149,1244], rowRange: [531,1026], plot: [1128,521,1256,1037], xTicks: goXTicks,
	title: "Top 30 of GO Enrichment", titleX: 1213, labelX: 1192 });
drawEnrich({ terms: pathTerms, enrich: pathEnrich, p: pathP, counts: pathCount, color: pathColor, size: pathSize,
	xDomain: [1,4], xRange: [1628,1813], rowRange: [531,1026], plot: [1615,521,1845,1037], xTicks: pathXTicks,
	title: "Top 30 of Pathway Enrichment", titleX: 1719, labelX: 1731 });

function drawKeyGrad(id, color, bar, yScale, ticks, fmt, labelX, titleXY)
{
	const grad = defs.append("linearGradient").attr("id", id).attr("x1", 0).attr("x2", 0).attr("y1", 0).attr("y2", 1);
	const top = yScale.invert(bar[1]), bottom = yScale.invert(bar[1] + bar[3]);
	d3.range(11).forEach(i => grad.append("stop").attr("offset", i / 10).attr("stop-color", color(top + (bottom - top) * i / 10)));
	svg.append("rect").attr("x", bar[0]).attr("y", bar[1]).attr("width", bar[2]).attr("height", bar[3]).attr("fill", `url(#${id})`);
	ticks.forEach(v =>
	{
		svg.append("line").attr("x1", bar[0]).attr("x2", bar[0] + 4).attr("y1", yScale(v)).attr("y2", yScale(v)).attr("stroke", "#fff");
		svg.append("line").attr("x1", bar[0] + bar[2] - 4).attr("x2", bar[0] + bar[2]).attr("y1", yScale(v)).attr("y2", yScale(v)).attr("stroke", "#fff");
		txt(labelX, yScale(v) + 3.5, fmt(v), 9.5, { fill: "#333" });
	});
	txt(titleXY[0], titleXY[1], "pvalue", 12.5, { fill: "#222" });
}
drawKeyGrad("goKey", goColor, [1273,626,21,100], d3.scaleLinear().domain([.0075,.0025]).range([646,701]), goPTicks, d3.format(".4f"), 1299, [1273,622]);
drawKeyGrad("pathKey", pathColor, [1864,675,21,101], d3.scaleLinear().domain([.04,.01]).range([683,754]), pathPTicks, d3.format(".2f"), 1890, [1864,671]);

function keyBox(cx, cy)
{
	svg.append("rect").attr("x", cx - 9).attr("y", cy - 9.5).attr("width", 18).attr("height", 19).attr("fill", "#f2f2f2");
}
txt(1273, 760, "GO_domain", 12, { fill: "#222" });
goDomainNames.forEach((n, i) =>
{
	const cy = 776 + i * 19.5;
	keyBox(1283, cy);
	svg.append("path").attr("d", shapePath(["c","t","s"][i], 2.8)).attr("transform", `translate(1283,${cy})`).attr("fill", "#000");
	txt(1296, cy + 3.5, n, 10, { fill: "#333" });
});
txt(1273, 859, "diff_gene_count", 12, { fill: "#222" });
goCountTicks.forEach((v, i) =>
{
	const cy = 875 + i * 19.7;
	keyBox(1283, cy);
	svg.append("path").attr("d", shapePath("c", goSize(v))).attr("transform", `translate(1283,${cy})`).attr("fill", "#000");
	txt(1297, cy + 3.5, String(v), 9.5, { fill: "#333" });
});
txt(1864, 810, "diff_gene_count", 12, { fill: "#222" });
pathCountTicks.forEach((v, i) =>
{
	const cy = 826 + i * 19.5;
	keyBox(1874, cy);
	svg.append("path").attr("d", shapePath("c", pathSize(v))).attr("transform", `translate(1874,${cy})`).attr("fill", "#000");
	txt(1887, cy + 3.5, String(v), 9.5, { fill: "#333" });
});

// ---------- bars ----------
// layout per chart: axis left, axis right, y of 0, y of 1.2, star x, y label x, y label span
const barLayout = [
	[90,269,1328,1117,176,34,1092,1340],
	[360,540,1328,1117,438,300,1105,1338],
	[627,808,1329,1121,714,570,1072,1343],
	[901,1079,1331,1123,987,839,1073,1347],
	[1168,1345,1329,1117,1261,1109,1112,1340],
	[1432,1613,1333,1122,1521,1374,1063,1345],
	[1703,1884,1334,1124,0,1646,1117,1343]
];

barGenes.forEach((gene, i) =>
{
	const [left, right, y0, y12, starX, labX, labTop, labBottom] = barLayout[i];
	const x = d3.scaleBand().domain(barCategories).range([left, right]).paddingInner(0.6).paddingOuter(0.3);
	const y = d3.scaleLinear().domain([0,1.2]).range([y0, y12]);
	const g = svg.append("g");
	const vals = [barNormal[i], barTumor[i]];
	g.selectAll("rect").data(barCategories).enter().append("rect")
		.attr("x", d => x(d)).attr("y", (d, k) => y(vals[k])).attr("width", x.bandwidth()).attr("height", (d, k) => y0 - y(vals[k]))
		.attr("fill", (d, k) => k === 0 ? "#fff" : "#000").attr("stroke", "#000").attr("stroke-width", 1.6);
	const errBar = (cat, top, bottom) =>
	{
		const cx = x(cat) + x.bandwidth() / 2;
		g.append("path").attr("fill", "none").attr("stroke", "#000").attr("stroke-width", 1.4)
			.attr("d", `M${cx},${y(top)}V${y(bottom)}M${cx - 4},${y(top)}H${cx + 4}M${cx - 4},${y(bottom)}H${cx + 4}`);
	};
	errBar(barCategories[0], barNormal[i] + normalErrUp[i], barNormal[i] - normalErrDown[i]);
	errBar(barCategories[1], barTumor[i] + tumorErrUp[i], barTumor[i]);

	const axisY = g.append("g").attr("transform", `translate(${left},0)`).call(d3.axisLeft(y).tickValues(barTicks).tickFormat(d3.format("~g")).tickSize(6).tickPadding(11));
	axisY.selectAll("path,line").attr("stroke", "#8a8a8a").attr("stroke-width", 1.6);
	axisY.selectAll("text").attr("font-size", 21).attr("fill", "#111").attr("font-family", "Liberation Sans")
		.each(function () { squeeze(this, 0.72); });
	// category axis, ticks sit between the categories
	g.append("line").attr("x1", left).attr("x2", right).attr("y1", y0).attr("y2", y0).attr("stroke", "#8a8a8a").attr("stroke-width", 2);
	[left, (left + right) / 2, right].forEach(v => g.append("line").attr("x1", v).attr("x2", v).attr("y1", y0).attr("y2", y0 + 6).attr("stroke", "#8a8a8a").attr("stroke-width", 1.4));
	barCategories.forEach(cat =>
	{
		const ex = x(cat) + x.bandwidth() / 2 + 8, ey = y0 + 16;
		txt(ex, ey, cat, 19.5, { anchor: "end", italic: true, rotate: -32, fill: "#222", length: 119 });
	});
	txt(labX + 5, (labTop + labBottom) / 2, `Relative  expression  of  ${gene}`, 15, { anchor: "middle", rotate: -90, fill: "#2a1f3a", length: labBottom - labTop }).style("font-family", "DejaVu Sans").style("white-space", "pre");
	if (starValue[i] !== null) txt(starX, y(starValue[i]) + 10, "*", 23, { anchor: "middle" });
});
</script>
</body>
</html>
